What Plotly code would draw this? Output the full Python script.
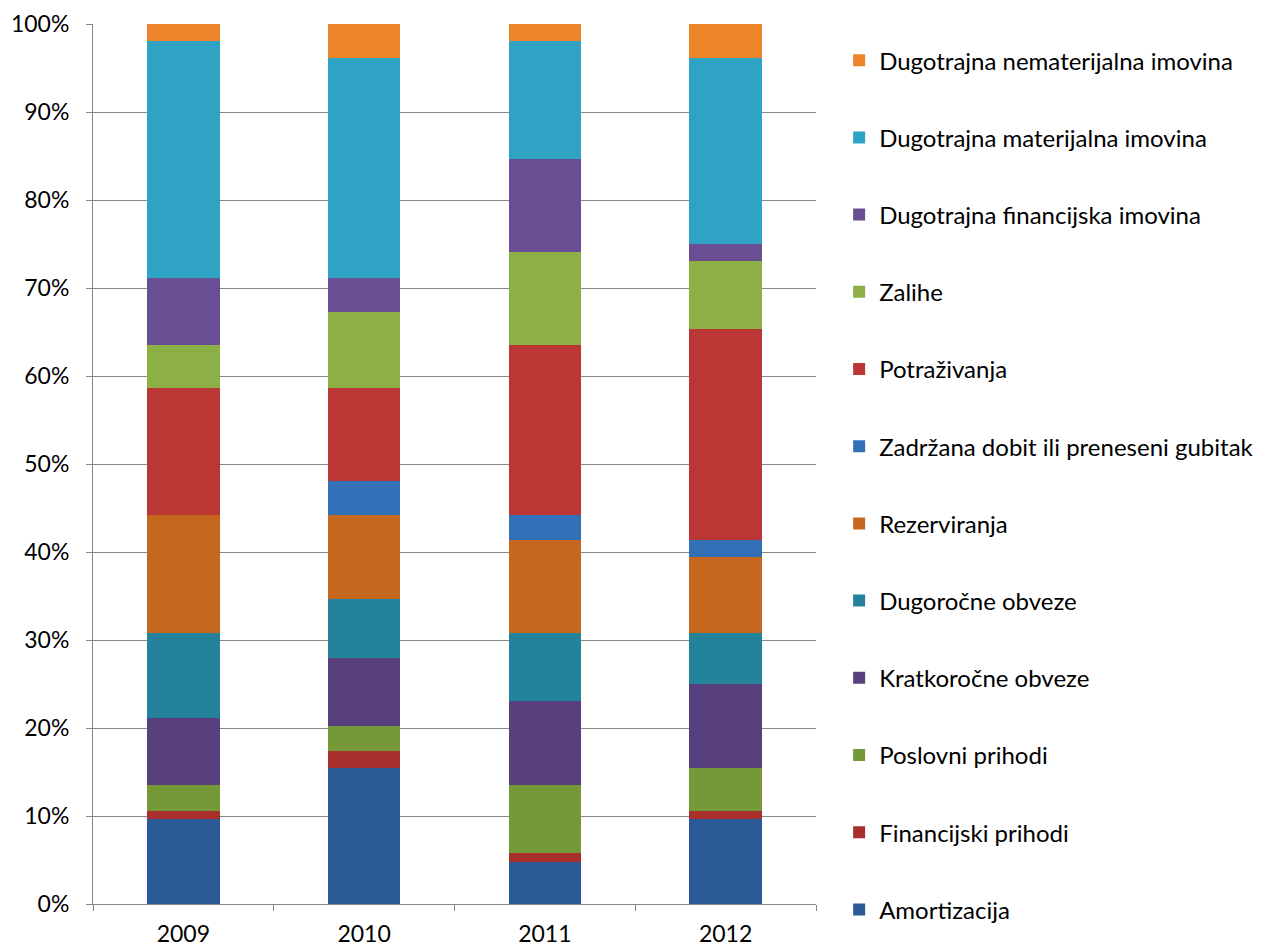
import plotly.graph_objects as go

years = ["2009", "2010", "2011", "2012"]

series_names = [
    "Amortizacija",
    "Financijski prihodi",
    "Poslovni prihodi",
    "Kratkoročne obveze",
    "Dugoročne obveze",
    "Rezerviranja",
    "Zadržana dobit ili preneseni gubitak",
    "Potraživanja",
    "Zalihe",
    "Dugotrajna financijska imovina",
    "Dugotrajna materijalna imovina",
    "Dugotrajna nematerijalna imovina",
]

amortizacija = [9.61, 15.44, 4.72, 9.61]
financijski_prihodi = [0.91, 1.90, 1.02, 0.91]
poslovni_prihodi = [2.95, 2.84, 7.73, 4.89]
kratkorocne_obveze = [7.70, 7.73, 9.55, 9.55]
dugorocne_obveze = [9.59, 6.71, 7.74, 5.80]
rezerviranja = [13.41, 9.55, 10.57, 8.64]
zadrzana_dobit = [0.0, 3.87, 2.84, 1.93]
potrazivanja = [14.43, 10.56, 19.33, 23.99]
zalihe = [4.90, 8.65, 10.58, 7.73]
dug_financijska = [7.66, 3.91, 10.53, 1.94]
dug_materijalna = [26.91, 24.97, 13.46, 21.14]
dug_nematerijalna = [1.93, 3.87, 1.93, 3.87]

series_values = [
    amortizacija, financijski_prihodi, poslovni_prihodi, kratkorocne_obveze,
    dugorocne_obveze, rezerviranja, zadrzana_dobit, potrazivanja, zalihe,
    dug_financijska, dug_materijalna, dug_nematerijalna,
]

colors = [
    "#2C5A97", "#A92F2D", "#769937", "#58407E", "#24839B", "#C6671F",
    "#3470B8", "#BA3735", "#8CAF46", "#6A4E93", "#2FA3C4", "#EE8429",
]

FONT = "Lato, 'Open Sans', sans-serif"

fig = go.Figure()
n = len(series_names)
for i, (name, vals, col) in enumerate(zip(series_names, series_values, colors)):
    fig.add_trace(go.Bar(
        x=years, y=vals, name=name, legendgroup=name,
        legendrank=1000 + n - i,
        marker=dict(color=col, line=dict(width=0)),
    ))

fig.update_layout(
    width=1269, height=949,
    barmode="stack", barnorm="percent", bargap=0.6,
    plot_bgcolor="white", paper_bgcolor="white",
    margin=dict(l=85, r=461, t=16, b=53, autoexpand=False),
    font=dict(family=FONT, size=23, color="black"),
    showlegend=True,
    legend=dict(
        traceorder="grouped", tracegroupgap=43,
        x=1.032, xanchor="left", y=0.984, yanchor="top",
        font=dict(family=FONT, size=24, color="black"),
        itemwidth=30, maxheight=1000,
    ),
    xaxis=dict(
        showline=True, linecolor="#868686", linewidth=1,
        ticks="outside", ticklen=6, tickcolor="#868686",
        tickson="boundaries", showgrid=False, automargin=False,
        ticklabelstandoff=9,
        tickfont=dict(family=FONT, size=23, color="black"),
    ),
    yaxis=dict(
        range=[0, 100], dtick=10, ticksuffix="%",
        showline=True, linecolor="#868686", linewidth=1,
        ticks="outside", ticklen=6, tickcolor="#868686",
        showgrid=True, gridcolor="#868686", gridwidth=1,
        ticklabelstandoff=12,
        tickfont=dict(family=FONT, size=23, color="black"),
        zeroline=False, automargin=False,
    ),
)

fig.write_html("out.html")
